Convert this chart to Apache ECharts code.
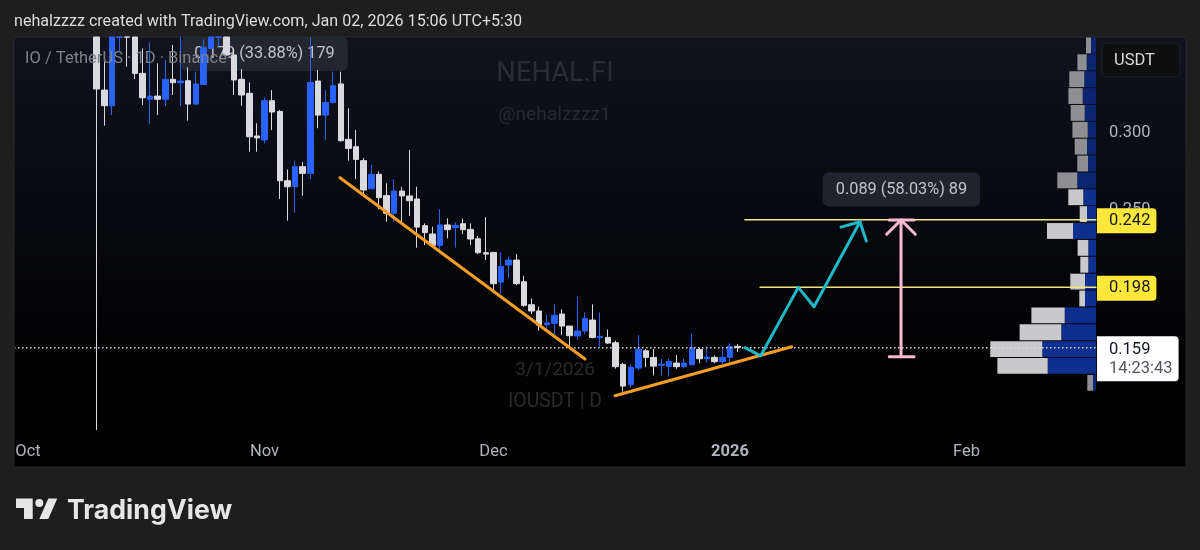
<!DOCTYPE html>
<html lang="en">
<head>
<meta charset="UTF-8">
<title>IOUSDT daily</title>
<style>html,body{margin:0;padding:0;background:#1e1e1e}#main{width:1200px;height:550px}</style>
<script src="https://cdn.jsdelivr.net/npm/echarts@6/dist/echarts.min.js"></script>
</head>
<body>
<div id="main"></div>
<script>
// [open, close, low, high], one row per day from 10 Oct 2025 to 2 Jan 2026
// prices above the top of the pane cannot be read, they stop at 0.3611
var candles = [
[.3611,.3272,.1049,.3611],[.3265,.3163,.3033,.3450],[.3163,.3611,.3102,.3611],[.361,.3611,.3515,.3611],
[.3611,.361,.3418,.3611],[.3611,.3374,.3337,.3611],[.3374,.3215,.3168,.3537],[.3205,.3226,.3044,.3574],
[.3226,.3205,.3102,.3439],[.3205,.3335,.3161,.3461],[.3335,.3313,.3233,.3559],[.3313,.3324,.3161,.3611],
[.3326,.3174,.3066,.3413],[.3174,.3305,.3168,.3385],[.3302,.3544,.3298,.3596],[.3537,.3611,.3531,.3611],
[.361,.3611,.3548,.3611],[.3611,.3494,.349,.3611],[.3494,.3331,.3233,.3537],[.3335,.3233,.3163,.3402],
[.3244,.2961,.2863,.3315],[.2966,.2953,.2863,.3048],[.2940,.3196,.2918,.3218],[.3196,.3122,.3005,.3265],
[.3126,.2674,.2555,.3135],[.2674,.2635,.2414,.2748],[.2635,.2766,.2466,.2805],[.2766,.2722,.2577,.2798],
[.2722,.3315,.2685,.3611],[.3324,.3102,.3016,.3396],[.3102,.3185,.2940,.3265],[.3183,.3294,.3179,.3385],
[.3305,.2935,.2929,.3385],[.2944,.2885,.2805,.3146],[.2896,.2813,.2685,.3005],[.2805,.2614,.2588,.2822],
[.2622,.2716,.2618,.2777],[.2716,.2564,.2488,.2735],[.2577,.2462,.2407,.2657],[.2462,.2607,.2407,.2685],
[.2607,.2575,.2396,.2635],[.2575,.2544,.2444,.2874],[.2555,.2372,.2238,.2635],[.2381,.2336,.2255,.2396],
[.2327,.2253,.2244,.2375],[.2253,.2386,.2212,.2488],[.2386,.2355,.2299,.2429],[.2368,.2383,.2238,.2403],
[.2394,.2355,.2327,.2427],[.2357,.2294,.2255,.2396],[.2296,.2205,.2196,.2314],[.2205,.2196,.2157,.2436],
[.2207,.2003,.1951,.2207],[.2014,.2116,.1940,.2207],[.2125,.2157,.2038,.2179],[.2157,.2003,.1994,.2196],
[.2016,.1862,.1853,.2055],[.1866,.1825,.1805,.1907],[.1825,.1734,.1697,.1853],[.1736,.1747,.1708,.1805],
[.1745,.1797,.1673,.1868],[.1805,.1727,.1668,.1836],[.1727,.1664,.1581,.1727],[.1662,.1695,.1636,.1918],
[.1695,.1777,.1675,.1816],[.1766,.1653,.1647,.1868],[.1651,.1660,.1592,.1816],[.1653,.1616,.1610,.1705],
[.1618,.1462,.1449,.1632],[.1477,.1336,.1299,.1488],[.1345,.1458,.1327,.1479],[.1453,.1577,.1436,.1668],
[.1566,.1523,.1458,.1577],[.1523,.1466,.1405,.1577],[.1471,.1479,.1405,.1514],[.1464,.1497,.1397,.1514],
[.1486,.1462,.1449,.1538],[.1464,.1486,.1451,.1514],[.1475,.1584,.1471,.1679],[.1575,.1514,.1484,.1586],
[.1514,.1525,.1488,.1595],[.1523,.1495,.1484,.1536],[.1495,.1523,.1479,.1579],[.1523,.1595,.1492,.1614],
[.1595,.1588,.1558,.1610]
];
var priceTicks = [0.3, 0.25];
var monthLabels = {'2025-10-01':'Oct','2025-11-01':'Nov','2025-12-01':'Dec','2026-01-01':'2026','2026-02-01':'Feb'};

// volume profile rows, top to bottom
var profileLevels = [.356,.345,.334,.323,.312,.301,.290,.279,.268,.257,.246,.235,.224,.213,.202,.191,.180,.169,.158,.147,.136];
var profileBuy  = [5,9.3,11.7,13.3,11.3,8.3,9,8,18.7,12.7,9,23,7.7,7.7,11,11,31.3,34.7,53.7,48.3,3];
var profileSell = [5,9.3,15,14.3,14,15.3,12.3,10.7,20,15,7.3,26,10.7,8,14.7,5.7,33.3,41.7,52,50.3,5.7];

// drawings: [day number, price], day 0 is 30 Sep 2025
var trendDown = [[41.89,.2694],[74,.1512]];
var trendUp = [[77.93,.1273],[101.09,.1592]];
var pathUp = [[94.97,.1586],[97.03,.1533],[101.96,.1979],[104.02,.1853],[110.04,.2407]];
var pathHead = [[107.55,.2372],[110.04,.2407],[110.87,.2281]];
var targetHigh = [[94.97,.242],[140.97,.242]];
var targetLow = [[96.94,.198],[140.97,.198]];
var lastPrice = [[-0.83,.1585],[140.97,.1585]];
var rangeStem = [[115.42,.2418],[115.42,.1527]];
var rangeTop = [[113.88,.2418],[117.12,.2418]];
var rangeBottom = [[113.88,.1527],[117.12,.1527]];
var rangeHead = [[113.54,.2325],[115.42,.2418],[117.29,.2325]];
var rangeLabels = [
  {value:[115.48,.2617], text:'0.089 (58.03%) 89'},
  {value:[32,.35], text:'0.179 (33.88%) 179'}
];

var dates = [];
for (var d = new Date(Date.UTC(2025,8,30)); dates.length < 142; d = new Date(+d + 86400000)) {
  dates.push(d.toISOString().slice(0,10));
}
var candleRows = dates.map(function(x,i){ return candles[i-10] || '-'; });

var myChart = echarts.init(document.getElementById('main'));

function drawLine(points,color,width,z,extra){
  var s = {type:'line',xAxisIndex:1,yAxisIndex:0,data:points,symbol:'none',clip:false,silent:true,z:z,
    lineStyle:{color:color,width:width,cap:'round',join:'round'}};
  for (var k in extra) s[k]=extra[k];
  return s;
}
function priceTag(text){
  return {show:true,formatter:text,distance:1,offset:[0,1],fontSize:16.5,color:'#131722',backgroundColor:'#ffe83b',
    borderRadius:[0,4,4,0],padding:[4,6,4,12]};
}

var logoColor = '#e6e6e6';
var option = {
  animation:false,
  backgroundColor:'#1e1e1e',
  textStyle:{fontFamily:'Roboto'},
  grid:[
    {left:16.55,top:37,width:1083.46,height:396},
    {left:980,top:37,width:116,height:354.25}
  ],
  xAxis:[
    {type:'category',data:dates,gridIndex:0,axisLine:{show:false},axisTick:{show:false},splitLine:{show:false},
      axisLabel:{
        margin:10,fontSize:16.5,color:'#b2b5be',
        interval:function(i,v){ return !!monthLabels[v]; },
        formatter:function(v){ return monthLabels[v]=='2026' ? '{b|2026}' : monthLabels[v]; },
        rich:{b:{fontWeight:'bold',fontSize:16.5,color:'#b2b5be'}}
      }},
    {type:'value',gridIndex:0,min:-0.5,max:141.5,show:false},
    {type:'value',gridIndex:1,min:0,max:116,inverse:true,show:false}
  ],
  yAxis:[
    {type:'value',gridIndex:0,position:'right',min:0.103,max:0.3611,scale:true,splitLine:{show:false},
      axisLine:{show:false},axisTick:{show:false},
      axisLabel:{customValues:priceTicks,margin:9,
        formatter:function(v){ return '{a|'+v.toFixed(3)+'}'; },
        rich:{a:{fontSize:16.5,color:'#b2b5be',padding:[5,0,0,0]}}}},
    {type:'category',gridIndex:1,data:profileLevels,inverse:true,show:false}
  ],
  series:[
    {type:'scatter',xAxisIndex:1,yAxisIndex:0,symbolSize:0,z:1,silent:true,
      data:rangeLabels,
      label:{show:true,position:'inside',fontSize:16.3,color:'#e6e7ea',backgroundColor:'rgba(42,46,57,0.92)',
        borderRadius:6,padding:[10,13,8,13],formatter:function(p){ return p.data.text; }}},
    {type:'candlestick',xAxisIndex:0,yAxisIndex:0,data:candleRows,barWidth:6,z:2,silent:true,
      itemStyle:{color:'#2962ff',color0:'#d9d9de',borderColor:'#2962ff',borderColor0:'#d9d9de',borderWidth:1}},
    {type:'bar',xAxisIndex:2,yAxisIndex:1,stack:'vp',data:profileBuy,barCategoryGap:'6%',z:2,silent:true,
      itemStyle:{color:function(p){ return p.dataIndex>=9 && p.dataIndex<=19 ? '#0f2f8f' : '#0b2670'; }}},
    {type:'bar',xAxisIndex:2,yAxisIndex:1,stack:'vp',data:profileSell,barCategoryGap:'6%',z:2,silent:true,
      itemStyle:{color:function(p){ return p.dataIndex>=9 && p.dataIndex<=19 ? '#c9c9cc' : '#8f8f93'; }}},
    drawLine(trendDown,'#f59d24',3,4),
    drawLine(trendUp,'#f59d24',3,4),
    drawLine(targetHigh,'#efe67c',1.5,3,{endLabel:priceTag('0.242')}),
    drawLine(targetLow,'#efe67c',1.5,3,{endLabel:priceTag('0.198')}),
    drawLine(lastPrice,'#d8dae0',1.5,3,{
      lineStyle:{color:'#d8dae0',width:1.5,type:[1.5,2.5]},
      endLabel:{show:true,distance:1,offset:[0,11],backgroundColor:'#ffffff',borderRadius:[0,4,4,0],padding:[4,6,3,12],
        formatter:'{p|0.159}\n{t|14:23:43}',
        rich:{p:{fontSize:16.5,color:'#131722',lineHeight:19},t:{fontSize:16.5,color:'#55575e',lineHeight:19}}}
    }),
    drawLine(pathUp,'#1fb8c9',3,5),
    drawLine(pathHead,'#1fb8c9',3,5),
    drawLine(rangeStem,'#f8bbd0',3,5),
    drawLine(rangeTop,'#f8bbd0',3,5),
    drawLine(rangeBottom,'#f8bbd0',3,5),
    drawLine(rangeHead,'#f8bbd0',3,5)
  ],
  graphic:[
    {type:'rect',z:-10,shape:{x:14,y:37,width:1172,height:430},
      style:{stroke:'#2b2b2b',lineWidth:1,fill:new echarts.graphic.LinearGradient(0,0,0,1,[{offset:0,color:'#10131d'},{offset:0.75,color:'#010102'},{offset:1,color:'#000000'}])}},
    {type:'text',z:-9,x:555,y:74,style:{text:'NEHAL.FI',font:'27.4px Roboto',fill:'#2a2d38',align:'center',verticalAlign:'middle'}},
    {type:'text',z:-9,x:554.5,y:115,style:{text:'@nehalzzzz1',font:'19.2px Roboto',fill:'#262933',align:'center',verticalAlign:'middle'}},
    {type:'text',z:-9,x:555,y:370,style:{text:'3/1/2026',font:'19px Roboto',fill:'#2b2b2e',align:'center',verticalAlign:'middle'}},
    {type:'text',z:-9,x:555,y:402,style:{text:'IOUSDT | D',font:'19.4px Roboto',fill:'#2b2b2e',align:'center',verticalAlign:'middle'}},
    {type:'text',z:20,x:25,y:59,style:{text:'IO / TetherUS · 1D · Binance',font:'16.5px Roboto',fill:'#7f828a',verticalAlign:'middle'}},
    {type:'text',z:20,x:14,y:22,style:{text:'nehalzzzz created with TradingView.com, Jan 02, 2026 15:06 UTC+5:30',font:'16.1px Roboto',fill:'#dcdcdc',verticalAlign:'middle'}},
    {type:'rect',z:20,shape:{x:1102,y:43,width:78,height:34,r:5},style:{fill:'#0f0f10',stroke:'#1f2026',lineWidth:1}},
    {type:'text',z:21,x:1114,y:60.5,style:{text:'USDT',font:'16.5px Roboto',fill:'#d8d9dc',verticalAlign:'middle'}},
    {type:'polygon',z:20,shape:{points:[[16,498.5],[32.7,498.5],[32.7,519],[24,519],[24,508],[16,508]]},style:{fill:logoColor}},
    {type:'circle',z:20,shape:{cx:39.3,cy:503,r:4},style:{fill:logoColor}},
    {type:'polygon',z:20,shape:{points:[[48.3,498.5],[57.3,498.5],[48.3,519],[39.3,519]]},style:{fill:logoColor}},
    {type:'text',z:20,x:67,y:510.5,style:{text:'TradingView',font:'700 26.7px Inter',fill:logoColor,verticalAlign:'middle'}}
  ]
};
myChart.setOption(option);
</script>
</body>
</html>
